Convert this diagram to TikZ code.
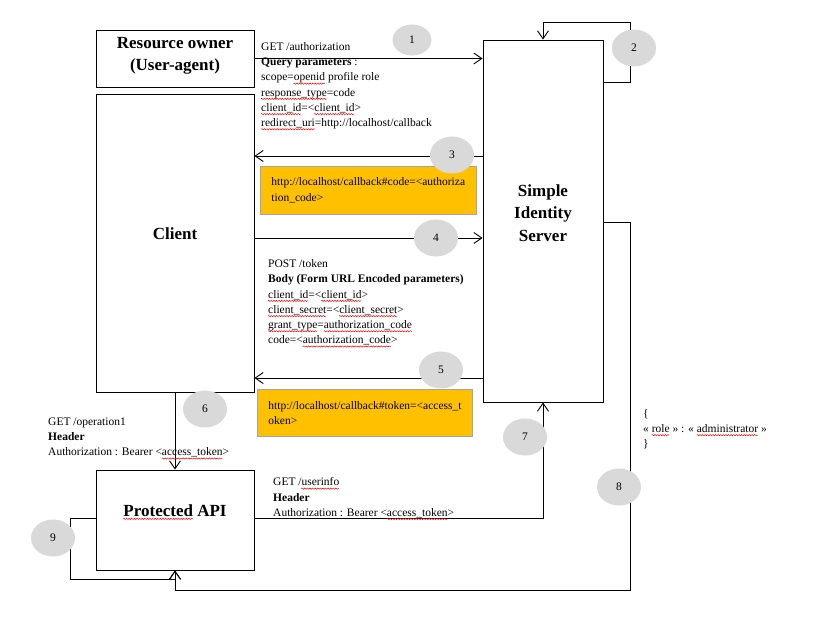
\documentclass[tikz,border=0pt]{standalone}
\usepackage{fontspec}
\setmainfont{Liberation Serif}
\usetikzlibrary{arrows.meta,shapes.geometric,decorations.pathmorphing}
\definecolor{gold}{HTML}{FFC000}
\definecolor{circ}{HTML}{D9D9D9}
\definecolor{obord}{HTML}{A5A5A5}
\newsavebox\splbox
\newcommand\spl[1]{\sbox\splbox{#1}\usebox\splbox\llap{\tikz[baseline=0pt]\draw[red,line width=0.5pt,decorate,decoration={snake,amplitude=0.6pt,segment length=2.6pt}] (0pt,-2.8pt) -- (\wd\splbox,-2.8pt);}}
\begin{document}
\begin{tikzpicture}[x=1pt,y=-1pt,
  box/.style={draw, line width=0.9pt, inner sep=0},
  title/.style={font=\fontsize{17}{22.5}\selectfont\bfseries, align=center, inner sep=0},
  txt/.style={font=\fontsize{11.5}{15.2}\selectfont, align=left, anchor=north west, inner sep=0},
  num/.style={ellipse, fill=circ, minimum width=44, minimum height=37, inner sep=0, font=\fontsize{11.5}{13}\selectfont},
  note/.style={fill=gold, draw=obord, line width=0.8pt, anchor=north west, inner xsep=11, inner ysep=0,
     minimum height=48, align=left, font=\fontsize{11.5}{15.5}\selectfont},
  arr/.style={line width=0.9pt, -{Straight Barb[length=8pt,width=11pt]}}]
\useasboundingbox (0,0) rectangle (829,632);
\fill[white] (0,0) rectangle (829,632);
% boxes
\node[box, minimum width=158, minimum height=57] (ro) at (175,58.5) {};
\node[box, minimum width=158, minimum height=298] (cl) at (175,243) {};
\node[box, minimum width=120, minimum height=362] (srv) at (543,221) {};
\node[box, minimum width=158, minimum height=100] (api) at (175,520) {};
\node[title] (rot) at (175,56) {Resource owner\\(User-agent)};
\node[title] (clt) at (175,234) {Client};
\node[title] (srvt) at (543,213) {Simple\\Identity\\Server};
\node[title] (apit) at (175,512) {\spl{Protected} API};
% connectors
\draw[arr] (ro.east) -- (ro.east -| srv.west);
\draw[arr] (srv.east |- 0,82) -- (630,82) -- (630,22) -| (srv.north);
\draw[arr] (srv.west |- 0,156) -- (cl.east |- 0,156);
\draw[arr] (cl.east |- 0,238) -- (srv.west |- 0,238);
\draw[arr] (srv.west |- 0,378) -- (cl.east |- 0,378);
\draw[arr] (cl.south) -- (api.north);
\draw[arr] (api.east |- 0,518) -| (srv.south);
\draw[arr] (srv.east |- 0,222) -- (630,222) -- (630,590) -| (api.south);
\draw[arr] (api.west |- 0,518) -- (70,518) -- (70,579) -| (api.south);
% notes
\node[note, text width=194] (n1) at (260,166) {http://localhost/callback\#code=<authoriza\\tion\_code>};
\node[note, text width=193, minimum height=47] (n2) at (257,389) {http://localhost/callback\#token=<access\_t\\oken>};
% texts
\node[txt] (t1) at (261,42.3) {GET /authorization\\\textbf{Query parameters} :\\scope=\spl{openid} profile role\\\spl{response\_type}=code\\\spl{client\_id}=<\spl{client\_id}>\\\spl{redirect\_uri}=http://localhost/callback};
\node[txt] (t4) at (268,259.5) {POST /token\\\textbf{Body (Form URL Encoded parameters)}\\\spl{client\_id}=<\spl{client\_id}>\\\spl{client\_secret}=<\spl{client\_secret}>\\\spl{grant\_type}=\spl{authorization\_code}\\code=<\spl{authorization\_code}>};
\node[txt] (t6) at (48,417.5) {GET /operation1\\\textbf{Header}\\Authorization : Bearer <\spl{access\_token}>};
\node[txt] (t7) at (273,477.5) {GET /\spl{userinfo}\\\textbf{Header}\\Authorization : Bearer <\spl{access\_token}>};
\node[txt] (t8) at (643,409) {\{\\« \spl{role} » : « \spl{administrator} »\\\}};
% numbers
\node[num, minimum width=39, minimum height=31] (c1) at (412,40) {1};
\node[num] (c2) at (634,48) {2};
\node[num] (c3) at (452,155) {3};
\node[num] (c4) at (436,238) {4};
\node[num] (c5) at (441,370) {5};
\node[num] (c6) at (205,409) {6};
\node[num] (c7) at (525,437) {7};
\node[num] (c8) at (619,487) {8};
\node[num] (c9) at (53,538) {9};
\end{tikzpicture}
\end{document}
